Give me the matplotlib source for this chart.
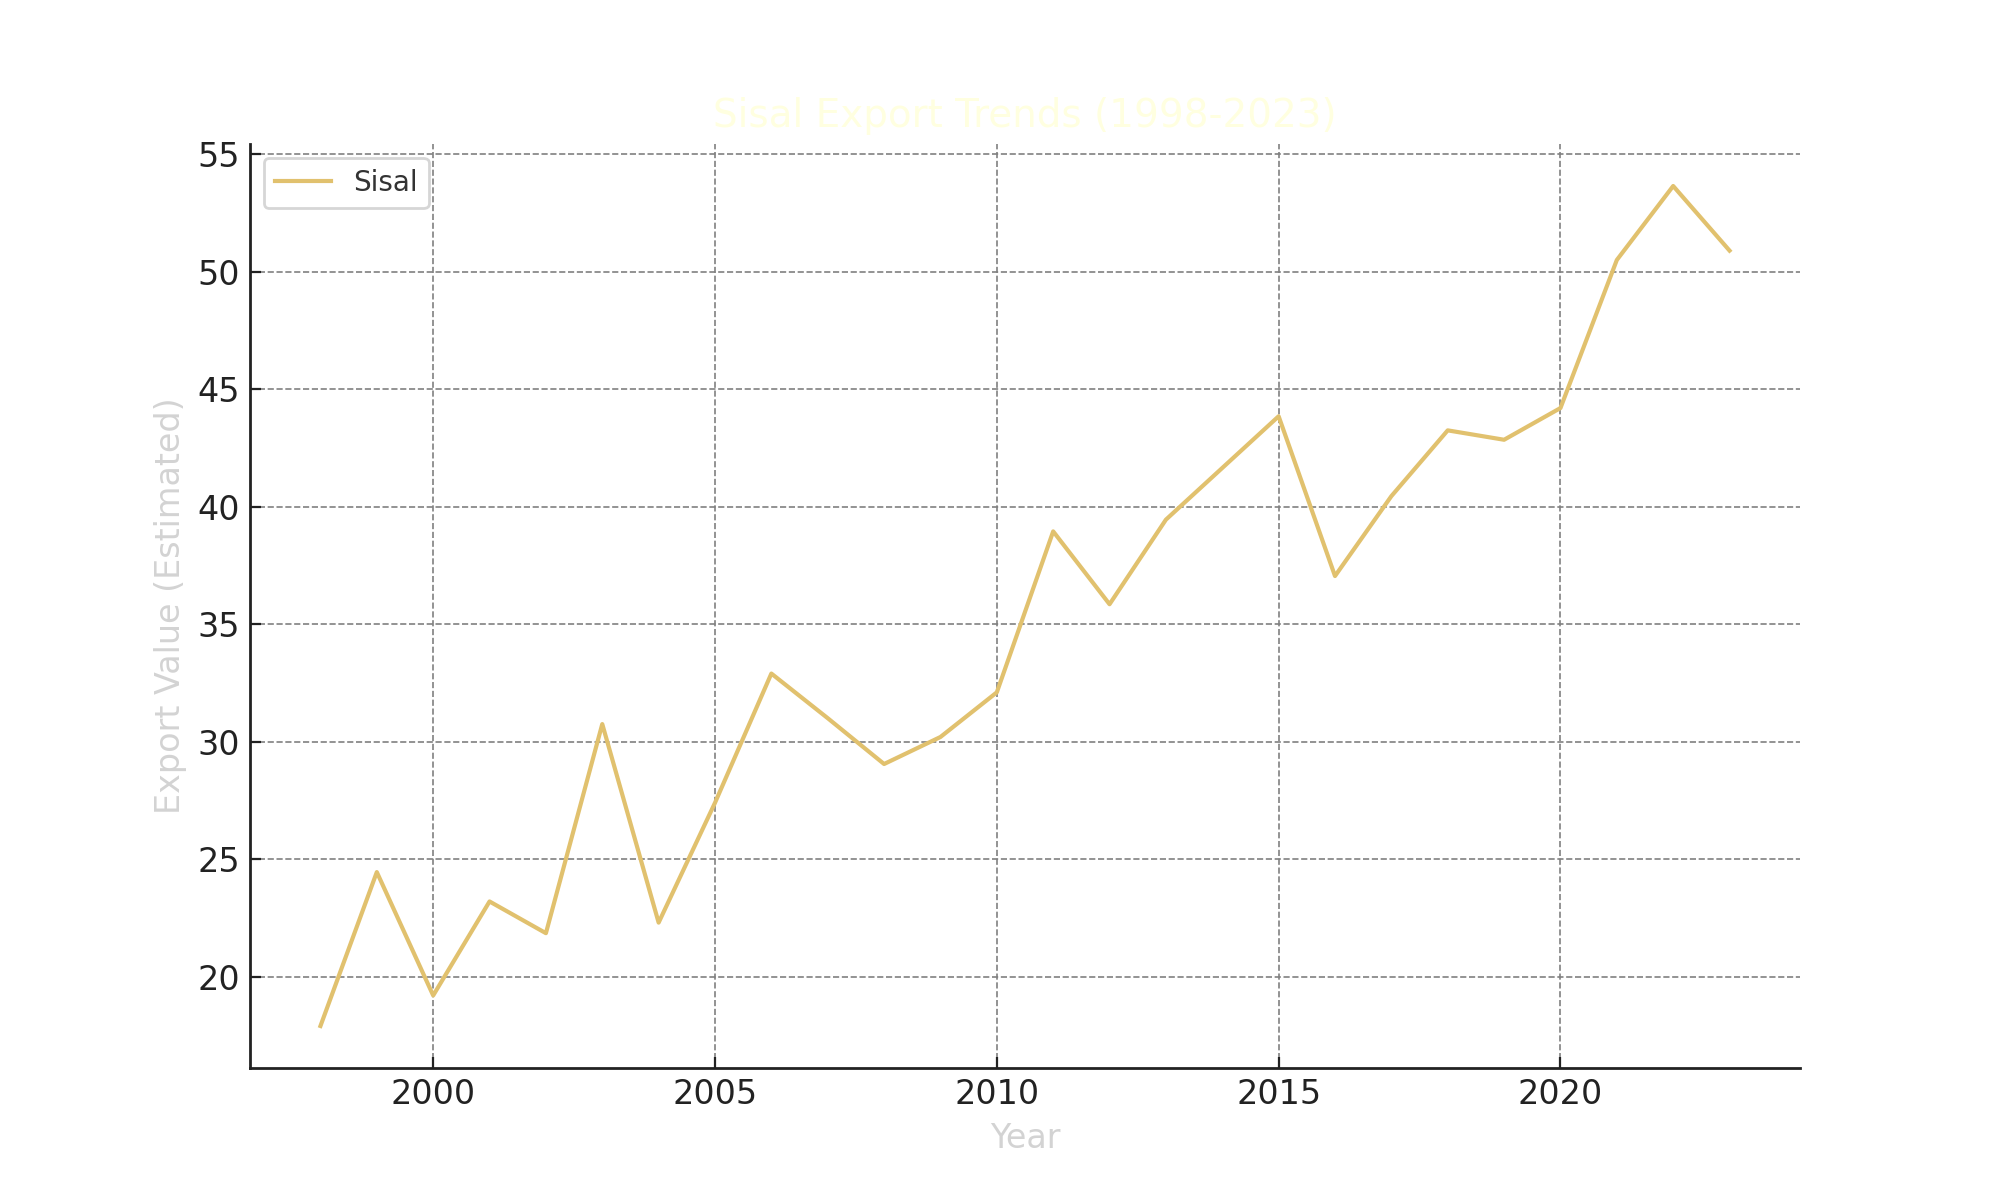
import numpy as np
import matplotlib
matplotlib.use("Agg")
import matplotlib.pyplot as plt

# Data
years = [1998, 1999, 2000, 2001, 2002, 2003, 2004, 2005, 2006, 2007, 2008, 2009, 2010,
         2011, 2012, 2013, 2014, 2015, 2016, 2017, 2018, 2019, 2020, 2021, 2022, 2023]
sisal = [17.9, 24.45, 19.2, 23.2, 21.85, 30.75, 22.3, 27.4, 32.9, 31.0, 29.05, 30.2, 32.1,
         38.95, 35.85, 39.45, 41.65, 43.85, 37.05, 40.45, 43.25, 42.85, 44.2, 50.5, 53.65, 50.9]

line_color = "#E1C16E"
title_text = "Sisal Export Trends (1998-2023)"

fig, ax = plt.subplots(figsize=(10, 6), dpi=200)
fig.subplots_adjust(left=0.125, right=0.9, bottom=0.11, top=0.88)

ax.plot(years, sisal, color=line_color, linewidth=1.5, label="Sisal")

ax.set_title(title_text, color="#FFFFE0", fontsize=14)
ax.set_xlabel("Year", color="#D3D3D3", fontsize=12)
ax.set_ylabel("Export Value (Estimated)", color="#D3D3D3", fontsize=12)

ax.grid(True, linestyle="--", color="gray", linewidth=0.6)
ax.spines["top"].set_visible(False)
ax.spines["right"].set_visible(False)
for side in ["left", "bottom"]:
    ax.spines[side].set_color("#222222")
    ax.spines[side].set_linewidth(1.0)

ax.tick_params(direction="in", labelsize=12, colors="#222222", length=4)
ax.set_xticks([2000, 2005, 2010, 2015, 2020])
ax.set_yticks([20, 25, 30, 35, 40, 45, 50, 55])

leg = ax.legend(loc="upper left", fontsize=10)
for t in leg.get_texts():
    t.set_color("#333333")

plt.savefig("out.png", dpi=200)
